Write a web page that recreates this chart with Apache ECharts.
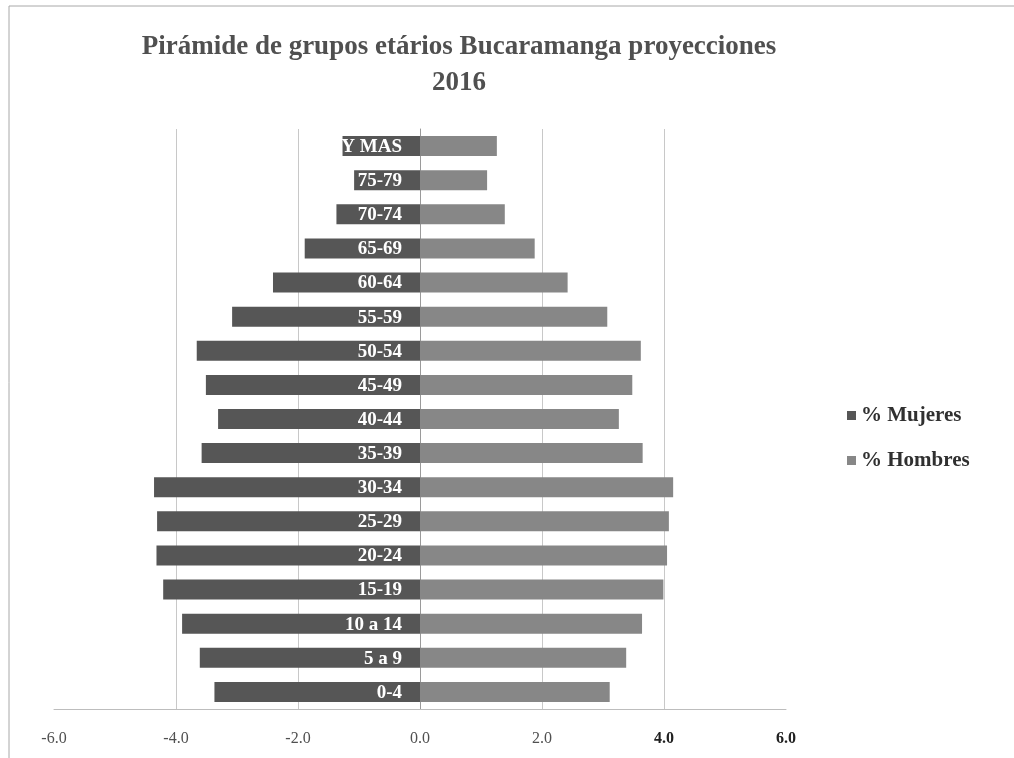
<!DOCTYPE html>
<html>
<head>
<meta charset="utf-8">
<script src="https://cdn.jsdelivr.net/npm/echarts@6/dist/echarts.min.js"></script>
<style>
html,body{margin:0;padding:0;background:#fff;}
#chart{width:1014px;height:758px;}
</style>
</head>
<body>
<div id="chart"></div>
<script>
const titleText = 'Pirámide de grupos etários Bucaramanga proyecciones\n2016';
const categories = ['0-4','5 a 9','10 a 14','15-19','20-24','25-29','30-34','35-39','40-44','45-49','50-54','55-59','60-64','65-69','70-74','75-79','80 Y MAS'];
const mujeres = [-3.37,-3.61,-3.90,-4.21,-4.32,-4.31,-4.36,-3.58,-3.31,-3.51,-3.66,-3.08,-2.41,-1.89,-1.37,-1.08,-1.27];
const hombres = [3.11,3.38,3.64,3.99,4.05,4.08,4.15,3.65,3.26,3.48,3.62,3.07,2.42,1.88,1.39,1.10,1.26];
const seriesNames = ['% Mujeres','% Hombres'];
const xMin = -6, xMax = 6, xStep = 2;

const serif = '"Liberation Serif", "DejaVu Serif", serif';
const chart = echarts.init(document.getElementById('chart'), null, {renderer:'canvas'});
chart.setOption({
  backgroundColor:'#ffffff',
  animation:false,
  graphic:[{type:'rect',shape:{x:9,y:6,width:1010,height:760},style:{fill:'none',stroke:'#a8a8a8',lineWidth:1},z:-1}],
  title:{
    text:titleText, left:454, textAlign:'center', top:24,
    textStyle:{fontFamily:serif,fontWeight:'bold',fontSize:27,color:'#505050',lineHeight:36}
  },
  legend:{
    data:seriesNames, orient:'vertical', left:842, top:400, itemGap:24,
    itemWidth:9, itemHeight:9, icon:'rect',
    textStyle:{fontFamily:serif,fontWeight:'bold',fontSize:21,color:'#303030'}
  },
  grid:{left:54, right:228, top:129, bottom:49, containLabel:false, outerBoundsMode:'none'},
  xAxis:{
    type:'value', min:xMin, max:xMax, interval:xStep,
    axisLine:{show:true,lineStyle:{color:'#bdbdbd'}},
    axisTick:{show:false},
    axisLabel:{margin:22, fontFamily:serif, fontSize:16, color:'#505050',
      formatter:v=> v >= 4 ? '{d|' + v.toFixed(1) + '}' : v.toFixed(1),
      rich:{d:{fontFamily:serif, fontSize:16, fontWeight:'bold', color:'#202020'}}},
    splitLine:{show:true, showMinLine:false, showMaxLine:false, lineStyle:{color:'#c8c8c8'}}
  },
  yAxis:{
    type:'category', data:categories,
    axisLine:{show:true,onZero:true,lineStyle:{color:'#9a9a9a'}},
    axisTick:{show:false},
    axisLabel:{show:false}
  },
  series:[
    {name:seriesNames[0], type:'bar', data:mujeres, barWidth:20, barGap:'-100%',
     itemStyle:{color:'#565656'}, z:2,
     label:{show:true, position:'insideRight', distance:0, offset:[-18,1],
       formatter:p=>p.name, fontFamily:serif, fontWeight:'bold', fontSize:19, color:'#ffffff'}},
    {name:seriesNames[1], type:'bar', data:hombres, barWidth:20, barGap:'-100%',
     itemStyle:{color:'#878787'}, z:2}
  ]
});
</script>
</body>
</html>
